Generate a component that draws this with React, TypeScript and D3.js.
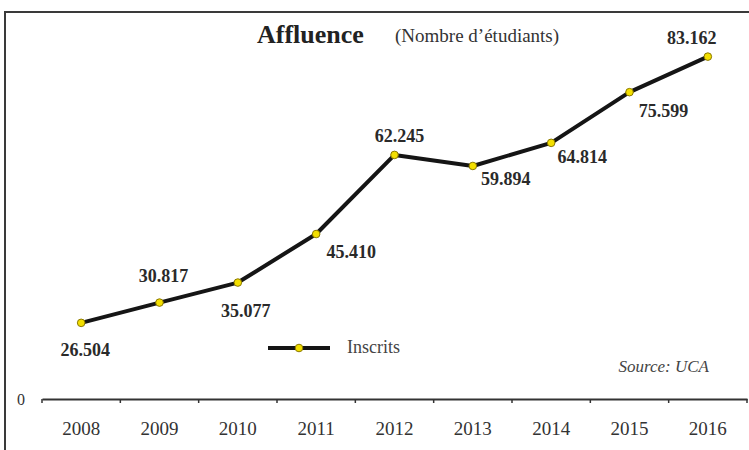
import { useEffect, useRef } from "react"
import * as d3 from "d3"

const years = ["2008", "2009", "2010", "2011", "2012", "2013", "2014", "2015", "2016"]
const inscrits = [26504, 30817, 35077, 45410, 62245, 59894, 64814, 75599, 83162]
const valueLabels = ["26.504", "30.817", "35.077", "45.410", "62.245", "59.894", "64.814", "75.599", "83.162"]
// label offset from each point (dx, dy of baseline)
const labelOffsets: [number, number][] = [
  [4, 33], [4, -21], [8, 34], [35, 24], [5, -13], [33, 19], [31, 20], [34, 25], [-16, -13],
]

const FONT = "'Liberation Serif', 'Times New Roman', serif"

export default function App() {
  const svgRef = useRef<SVGSVGElement>(null)

  useEffect(() => {
    if (!svgRef.current) return
    const svg = d3.select(svgRef.current)
    svg.selectAll("*").remove()

    const width = 749
    const height = 450
    const axisY = 399

    svg.append("rect").attr("width", width).attr("height", height).attr("fill", "#fff")

    // frame
    svg.append("rect")
      .attr("x", 5).attr("y", 12)
      .attr("width", 780).attr("height", 480)
      .attr("fill", "none").attr("stroke", "#3a3a3a").attr("stroke-width", 2)

    const x = d3.scaleBand().domain(years).range([42, 747]).padding(0)
    const y = d3.scaleLinear().domain([10300, 86700]).range([axisY, 40])

    // x axis
    const xAxis = svg.append("g")
      .attr("transform", `translate(0,${axisY})`)
      .call(d3.axisBottom(x).tickSize(0).tickPadding(23))
    xAxis.select(".domain").attr("stroke", "#333").attr("stroke-width", 2)
    xAxis.selectAll("text")
      .attr("font-family", FONT).attr("font-size", "19px").attr("fill", "#333")

    const edges = years.map((d) => x(d) || 0).concat([(x(years[years.length - 1]) || 0) + x.bandwidth()])
    svg.append("g").selectAll("line").data(edges).enter().append("line")
      .attr("x1", (d) => d).attr("x2", (d) => d)
      .attr("y1", axisY).attr("y2", axisY + 4)
      .attr("stroke", "#333").attr("stroke-width", 1.5)

    // y axis: single "0" label at the base
    const yAxis = svg.append("g")
      .attr("transform", "translate(42,0)")
      .call(d3.axisLeft(y).tickValues([y.domain()[0]]).tickFormat(() => "0").tickSize(0).tickPadding(17))
    yAxis.select(".domain").remove()
    yAxis.selectAll("text")
      .attr("font-family", FONT).attr("font-size", "16px").attr("fill", "#333")

    const cx = (d: string) => (x(d) || 0) + x.bandwidth() / 2
    const pts = years.map((d, i) => ({ year: d, value: inscrits[i], label: valueLabels[i], off: labelOffsets[i] }))

    const line = d3.line<(typeof pts)[number]>()
      .x((d) => cx(d.year))
      .y((d) => y(d.value))

    svg.append("path").datum(pts)
      .attr("fill", "none").attr("stroke", "#151515").attr("stroke-width", 4)
      .attr("stroke-linejoin", "round").attr("d", line)

    svg.append("g").selectAll("circle").data(pts).enter().append("circle")
      .attr("cx", (d) => cx(d.year)).attr("cy", (d) => y(d.value))
      .attr("r", 3.8).attr("fill", "#f3df00").attr("stroke", "#8a7800").attr("stroke-width", 1)

    svg.append("g").selectAll("text").data(pts).enter().append("text")
      .attr("x", (d) => cx(d.year) + d.off[0])
      .attr("y", (d) => y(d.value) + d.off[1])
      .attr("text-anchor", "middle")
      .attr("font-family", FONT).attr("font-size", "18px").attr("font-weight", "bold")
      .attr("fill", "#2a2a2a")
      .text((d) => d.label)

    // title
    svg.append("text")
      .attr("x", 257).attr("y", 43)
      .attr("font-family", FONT).attr("font-size", "26px").attr("font-weight", "bold").attr("fill", "#222")
      .text("Affluence")
    svg.append("text")
      .attr("x", 395).attr("y", 42)
      .attr("font-family", FONT).attr("font-size", "19px").attr("fill", "#333")
      .text("(Nombre d’étudiants)")

    // legend
    const lg = svg.append("g").attr("transform", "translate(268,348)")
    lg.append("line").attr("x1", 0).attr("x2", 62).attr("y1", 0).attr("y2", 0)
      .attr("stroke", "#151515").attr("stroke-width", 4)
    lg.append("circle").attr("cx", 31).attr("cy", 0).attr("r", 3.8)
      .attr("fill", "#f3df00").attr("stroke", "#8a7800").attr("stroke-width", 1)
    lg.append("text").attr("x", 79).attr("y", 5)
      .attr("font-family", FONT).attr("font-size", "18px").attr("fill", "#444")
      .text("Inscrits")

    // source
    svg.append("text")
      .attr("x", 709).attr("y", 372).attr("text-anchor", "end")
      .attr("font-family", FONT).attr("font-size", "17px").attr("font-style", "italic").attr("fill", "#444")
      .text("Source: UCA")
  }, [])

  return (
    <svg
      ref={svgRef}
      width={749}
      height={450}
      style={{ position: "absolute", left: 0, top: 0, display: "block" }}
    />
  )
}
